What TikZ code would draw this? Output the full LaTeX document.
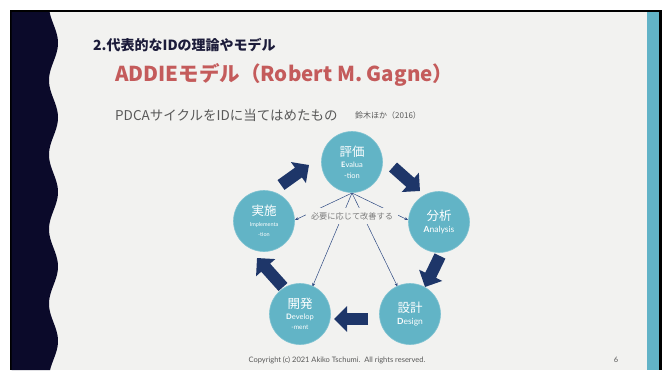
\documentclass[tikz,border=0pt]{standalone}
\usepackage{fontspec}
\setmainfont{Lato}
\newfontfamily\jp{Noto Sans CJK JP}
\usetikzlibrary{arrows.meta,calc}
\definecolor{slidebg}{HTML}{F2F2F0}
\definecolor{leftnavy}{HTML}{0B0A2A}
\definecolor{titlenavy}{HTML}{1C1C3A}
\definecolor{redtitle}{HTML}{C45B5B}
\definecolor{graytext}{HTML}{595959}
\definecolor{tealfill}{HTML}{62B4C6}
\definecolor{tealedge}{HTML}{7FC2D1}
\definecolor{band}{HTML}{62B3C7}
\definecolor{arrownavy}{HTML}{1E3669}
\definecolor{linenavy}{HTML}{2E4A82}
\definecolor{labelgray}{HTML}{7A7A7A}
\tikzset{
  phase/.style={circle, fill=tealfill, draw=tealedge, line width=0.6pt,
    minimum size=61pt, inner sep=0pt, text=white, align=center},
  cyclearrow/.style={line width=12pt, draw=arrownavy,
    -{Triangle[length=13pt,width=25pt]}},
  feedback/.style={draw=linenavy, line width=0.5pt,
    -{Stealth[length=3.5pt,width=3pt]}},
}
\newcommand{\jlab}[1]{{\jp\fontsize{12.5}{14}\selectfont #1}}
\begin{document}
\begin{tikzpicture}[x=1pt,y=-1pt]
\useasboundingbox (0,0) rectangle (667,370);
\fill[white] (0,0) rectangle (667,370);
\fill[slidebg] (11,11) rectangle (660,370);
\fill[band] (647,11) rectangle (659,370);
\fill[black] (659,10) rectangle (662,370);
\fill[black] (10,10) rectangle (662,12);
\fill[black] (10,10) rectangle (11.5,370);
\fill[leftnavy] (11.5,12) -- plot[domain=12:370,samples=140] ({53.5+4.5*cos(4.8322*(\x-43))},\x) -- (11.5,370) -- cycle;

% titles
\node[anchor=west, inner sep=0pt, text=titlenavy, font=\jp\bfseries\fontsize{14}{16}\selectfont] (title) at (93,45) {2.代表的なIDの理論やモデル};
\node[anchor=west, inner sep=0pt, text=redtitle, font=\jp\bfseries\fontsize{20.5}{22}\selectfont] (sub) at (115,75) {ADDIEモデル（Robert M. Gagne）};
\node[anchor=west, inner sep=0pt, text=graytext, font=\jp\fontsize{13.5}{15}\selectfont] (desc) at (115,115) {PDCAサイクルをIDに当てはめたもの};
\node[anchor=west, inner sep=0pt, text=graytext, font=\jp\fontsize{8}{9}\selectfont] (cite) at (355,115) {鈴木ほか（2016）};

% feedback lines (drawn under label and circles)
\coordinate (Ebot) at (352,193);
\coordinate (Iend) at (295,220);
\coordinate (Aend) at (408,220);
\coordinate (Vend) at (312.5,286.5);
\coordinate (Dend) at (397.5,286.5);
\draw[feedback] (Ebot) -- (Iend);
\draw[feedback] (Ebot) -- (Aend);
\draw[feedback] (Ebot) -- (Vend);
\draw[feedback] (Ebot) -- (Dend);
\node[fill=slidebg, inner xsep=5pt, inner ysep=4pt, text=labelgray, font=\jp\fontsize{8.2}{9}\selectfont] (fix) at (352,216) {必要に応じて改善する};

% phases
\node[phase] (E) at (352,162) {\jlab{評価}\\[-1pt]{\fontsize{7.5}{9}\selectfont\textbf{E}valua}\\[-1pt]{\fontsize{7.5}{9}\selectfont -tion}};
\node[phase] (A) at (439,222) {\jlab{分析}\\[0pt]{\fontsize{8.5}{10}\selectfont\textbf{A}nalysis}};
\node[phase] (D) at (410,314) {\jlab{設計}\\[0pt]{\fontsize{8.5}{10}\selectfont\textbf{D}esign}};
\node[phase] (V) at (300,314) {\jlab{開発}\\[-1pt]{\fontsize{7.5}{9}\selectfont\textbf{D}evelop}\\[-2pt]{\fontsize{6.5}{8}\selectfont -ment}};
\node[phase] (I) at (264,221) {\jlab{実施}\\[-1pt]{\fontsize{5.5}{7}\selectfont Implementa}\\[-2pt]{\fontsize{5.5}{7}\selectfont -tion}};

% cycle arrows
\coordinate (t1) at (281,185); \coordinate (h1) at (309,165);
\coordinate (t2) at (393,167); \coordinate (h2) at (420,191);
\coordinate (t3) at (440,256); \coordinate (h3) at (425,287);
\coordinate (t4) at (368,319); \coordinate (h4) at (334,319);
\coordinate (t5) at (283,287); \coordinate (h5) at (257,258);
\draw[cyclearrow] (t1) -- (h1);
\draw[cyclearrow] (t2) -- (h2);
\draw[cyclearrow] (t3) -- (h3);
\draw[cyclearrow] (t4) -- (h4);
\draw[cyclearrow] (t5) -- (h5);

% footer
\node[text=graytext, font=\fontsize{7.5}{9}\selectfont] (copy) at (337,360) {Copyright (c) 2021 Akiko Tschumi.\ \ All rights reserved.};
\node[text=graytext, font=\fontsize{7.5}{9}\selectfont] (page) at (616,360) {6};
\end{tikzpicture}
\end{document}
